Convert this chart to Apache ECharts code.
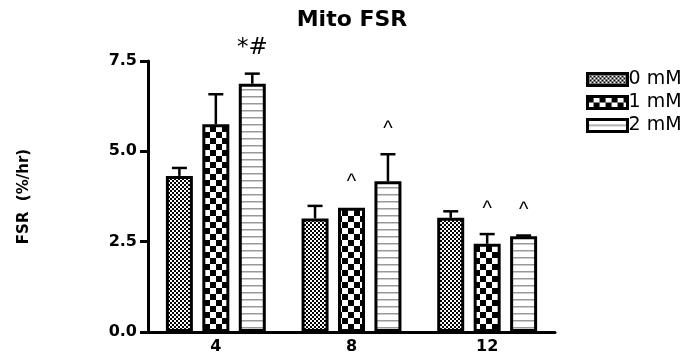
<!DOCTYPE html>
<html>
<head>
<meta charset="utf-8">
<script src="https://cdn.jsdelivr.net/npm/echarts@6/dist/echarts.min.js"></script>
<style>
  html, body { margin: 0; padding: 0; background: #fff; }
  #chart { width: 681px; height: 360px; }
</style>
</head>
<body>
<div id="chart"></div>
<script>
// data
var categories = ['4', '8', '12']
var seriesNames = ['0 mM', '1 mM', '2 mM']
var mean0 = [4.32, 3.14, 3.16]
var mean1 = [5.75, 3.44, 2.44]
var mean2 = [6.87, 4.17, 2.65]
var sem0 = [0.22, 0.35, 0.18]
var sem1 = [0.83, 0.00, 0.27]
var sem2 = [0.28, 0.75, 0.02]
var marks0 = ['', '', '']
var marks1 = ['', '^', '^']
var marks2 = ['*#', '^', '^']
var yTicks = [0, 2.5, 5.0, 7.5]

var BAR_W = 27
var BAR_GAP = 0.35

// fill patterns
function makePattern (kind) {
  var c = document.createElement('canvas')
  var ctx = c.getContext('2d')
  if (kind === 'fine') {
    c.width = 4; c.height = 4
    ctx.fillStyle = '#fff'; ctx.fillRect(0, 0, 4, 4)
    ctx.fillStyle = '#000'
    ctx.fillRect(0, 0, 2, 2); ctx.fillRect(2, 2, 2, 2)
  } else if (kind === 'coarse') {
    c.width = 12; c.height = 12
    ctx.fillStyle = '#fff'; ctx.fillRect(0, 0, 12, 12)
    ctx.fillStyle = '#000'
    ctx.fillRect(0, 0, 6, 6); ctx.fillRect(6, 6, 6, 6)
  } else {
    c.width = 4; c.height = 7
    ctx.fillStyle = '#fff'; ctx.fillRect(0, 0, 4, 7)
    ctx.fillStyle = '#999'
    ctx.fillRect(0, 5, 4, 1.5)
  }
  return { image: c, repeat: 'repeat' }
}
var fills = [makePattern('fine'), makePattern('coarse'), makePattern('lines')]
var means = [mean0, mean1, mean2]
var sems = [sem0, sem1, sem2]
var marks = [marks0, marks1, marks2]

var barSeries = seriesNames.map(function (name, i) {
  return {
    name: name,
    type: 'bar',
    barWidth: BAR_W,
    barGap: (BAR_GAP * 100) + '%',
    data: means[i],
    itemStyle: { color: fills[i], borderColor: '#000', borderWidth: 3 },
    z: 2
  }
})

// error bars + significance marks
var errData = []
for (var s = 0; s < 3; s++) {
  for (var k = 0; k < categories.length; k++) {
    errData.push([k, means[s][k], sems[s][k], s, marks[s][k]])
  }
}
var errSeries = {
  type: 'custom',
  data: errData,
  z: 3,
  silent: true,
  renderItem: function (params, api) {
    var cat = api.value(0)
    var m = api.value(1)
    var e = api.value(2)
    var idx = api.value(3)
    var label = errData[params.dataIndex][4]
    var dx = (idx - 1) * BAR_W * (1 + BAR_GAP)
    var p0 = api.coord([cat, m])
    var p1 = api.coord([cat, m + e])
    var x = p0[0] + dx
    var children = []
    if (e > 0) {
      children.push({ type: 'line', shape: { x1: x, y1: p0[1], x2: x, y2: p1[1] }, style: { stroke: '#000', lineWidth: 2.5 } })
      children.push({ type: 'line', shape: { x1: x - 7.5, y1: p1[1], x2: x + 7.5, y2: p1[1] }, style: { stroke: '#000', lineWidth: 2.5 } })
    }
    if (label) {
      var big = label.length > 1
      children.push({
        type: 'text',
        style: {
          text: label,
          x: x, y: p1[1] - (big ? 14 : 15),
          align: 'center', verticalAlign: 'bottom',
          fill: '#000',
          font: big ? '23px "DejaVu Sans"' : '20px "Liberation Sans"'
        }
      })
    }
    return { type: 'group', children: children }
  }
}

var chart = echarts.init(document.getElementById('chart'), null, { renderer: 'canvas' })
chart.setOption({
  animation: false,
  backgroundColor: '#fff',
  title: {
    text: 'Mito FSR',
    left: 347,
    top: 4,
    textAlign: 'center',
    textStyle: { fontFamily: 'DejaVu Sans', fontWeight: 'bold', fontSize: 22, color: '#000' }
  },
  grid: { left: 148, right: 126, top: 61, bottom: 28 },
  legend: {
    orient: 'vertical',
    left: 581,
    top: 65,
    icon: 'rect',
    itemWidth: 40,
    itemHeight: 12,
    itemGap: 4,
    itemStyle: { borderColor: '#000', borderWidth: 3 },
    textStyle: { fontFamily: 'DejaVu Sans', fontSize: 19, color: '#000', padding: [0, 0, 0, -4] },
    data: seriesNames
  },
  xAxis: {
    type: 'category',
    data: categories,
    axisLine: { lineStyle: { color: '#000', width: 3 } },
    axisTick: { alignWithLabel: true, length: 7, lineStyle: { color: '#000', width: 3 } },
    axisLabel: { margin: 7, color: '#000', fontFamily: 'DejaVu Sans', fontWeight: 'bold', fontSize: 16 }
  },
  yAxis: {
    type: 'value',
    min: yTicks[0],
    max: yTicks[yTicks.length - 1],
    interval: 2.5,
    name: 'FSR  (%/hr)',
    nameLocation: 'middle',
    nameRotate: 90,
    nameGap: 116,
    nameTextStyle: { fontFamily: 'DejaVu Sans', fontWeight: 'bold', fontSize: 15, color: '#000' },
    splitLine: { show: false },
    axisLine: { show: true, lineStyle: { color: '#000', width: 3 } },
    axisTick: { show: true, length: 8, lineStyle: { color: '#000', width: 3 } },
    axisLabel: {
      margin: 11, color: '#000', fontFamily: 'DejaVu Sans', fontWeight: 'bold', fontSize: 16,
      formatter: function (v) { return v.toFixed(1) }
    }
  },
  series: barSeries.concat([errSeries])
})
</script>
</body>
</html>
